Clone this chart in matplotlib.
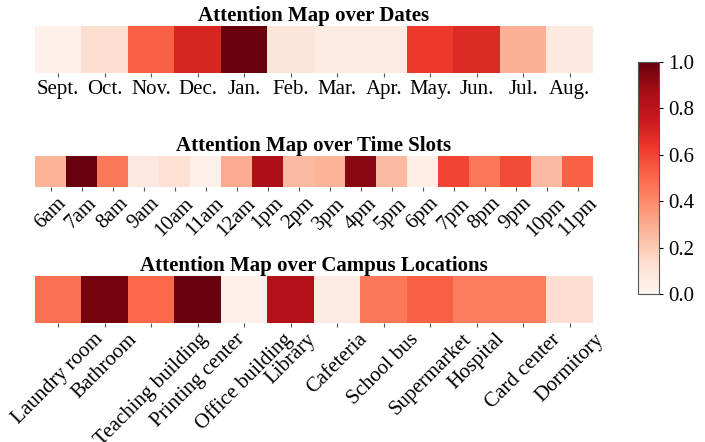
import matplotlib
matplotlib.use("Agg")
import matplotlib.pyplot as plt
import numpy as np

plt.rcParams['font.family'] = ['Liberation Serif', 'DejaVu Serif']

months = ["Sept.", "Oct.", "Nov.", "Dec.", "Jan.", "Feb.", "Mar.", "Apr.", "May.", "Jun.", "Jul.", "Aug."]
month_vals = [0.02, 0.13, 0.52, 0.70, 1.00, 0.09, 0.06, 0.06, 0.63, 0.68, 0.28, 0.07]

slots = ["6am", "7am", "8am", "9am", "10am", "11am", "12am", "1pm", "2pm", "3pm",
         "4pm", "5pm", "6pm", "7pm", "8pm", "9pm", "10pm", "11pm"]
slot_vals = [0.27, 1.00, 0.45, 0.07, 0.12, 0.02, 0.30, 0.85, 0.25, 0.27,
             0.93, 0.25, 0.04, 0.60, 0.46, 0.58, 0.25, 0.52]

locations = ["Laundry room", "Bathroom", "Teaching building", "Printing center", "Office building",
             "Library", "Cafeteria", "School bus", "Supermarket", "Hospital", "Card center", "Dormitory"]
loc_vals = [0.48, 0.97, 0.50, 1.00, 0.02, 0.83, 0.06, 0.45, 0.52, 0.44, 0.44, 0.13]

W, H = 705, 442
fig = plt.figure(figsize=(W / 100, H / 100), dpi=100)

def px_axes(x0, y0, x1, y1):
    return fig.add_axes([x0 / W, 1 - y1 / H, (x1 - x0) / W, (y1 - y0) / H])

panels = [
    ((35, 26, 593, 73), months, month_vals, "Attention Map over Dates", 0),
    ((35, 156, 593, 187), slots, slot_vals, "Attention Map over Time Slots", 45),
    ((35, 276, 593, 323), locations, loc_vals, "Attention Map over Campus Locations", 45),
]

im = None
for box, labels, vals, title, rot in panels:
    ax = px_axes(*box)
    im = ax.imshow(np.array(vals)[None, :], cmap="Reds", vmin=0, vmax=1, aspect="auto",
                   interpolation="nearest")
    ax.set_xticks(np.arange(len(labels)))
    ax.set_xticklabels(labels, rotation=rot, ha="center", fontsize=15)
    ax.set_yticks([])
    ax.tick_params(axis="x", length=3, color="#555555", pad=2)
    for s in ax.spines.values():
        s.set_visible(False)
    ax.set_title(title, fontsize=15, fontweight="bold", pad=3)

cax = px_axes(638, 62, 659, 294)
cb = fig.colorbar(im, cax=cax)
cb.set_ticks([0.0, 0.2, 0.4, 0.6, 0.8, 1.0])
cb.ax.tick_params(labelsize=15, length=3)
cb.outline.set_edgecolor("#555555")

fig.savefig("out.png", dpi=100)
